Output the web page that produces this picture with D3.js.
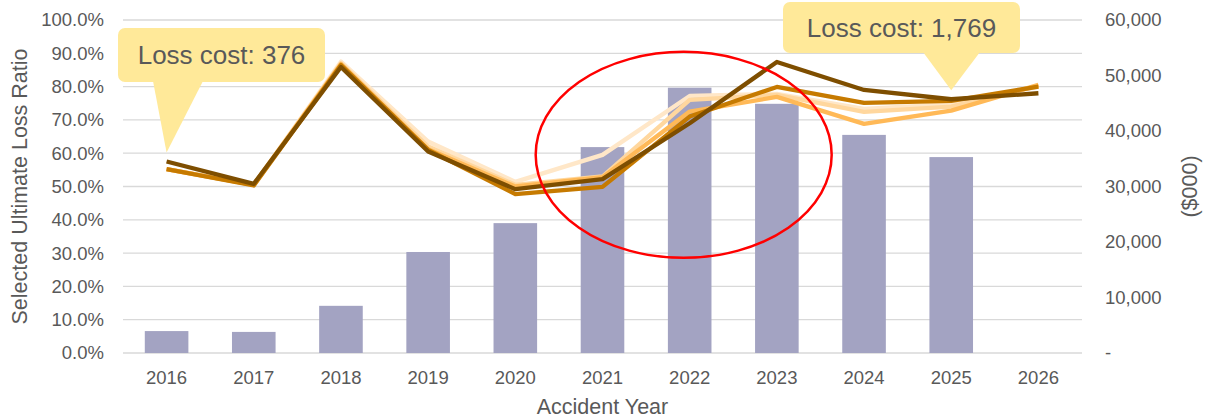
<!DOCTYPE html>
<html>
<head>
<meta charset="utf-8">
<script src="https://cdn.jsdelivr.net/npm/d3@7"></script>
<style>
  html, body { margin: 0; padding: 0; background: #fff; }
  svg { display: block; font-family: "Liberation Sans", Arial, sans-serif; }
</style>
</head>
<body>
<svg id="chart" width="1205" height="418"></svg>
<script>
// Accident years on the category axis
const years = ["2016","2017","2018","2019","2020","2021","2022","2023","2024","2025","2026"];

// Earned loss cost in $000 (bars, right axis); 2026 has no amount yet
const lossCost = [3950, 3800, 8500, 18200, 23400, 37100, 47800, 44900, 39300, 35300, null];

// Selected ultimate loss ratio by evaluation (lines, left axis)
const lrEval1 = [0.552, 0.505, 0.875, 0.635, 0.514, 0.595, 0.772, 0.778, 0.733, 0.747, 0.800];
const lrEval2 = [0.552, 0.505, 0.870, 0.620, 0.505, 0.530, 0.760, 0.775, 0.724, 0.740, 0.802];
const lrEval3 = [0.552, 0.505, 0.868, 0.612, 0.500, 0.528, 0.725, 0.769, 0.688, 0.728, 0.805];
const lrEval4 = [0.552, 0.503, 0.865, 0.610, 0.477, 0.499, 0.710, 0.799, 0.751, 0.757, 0.800];
const lrEval5 = [0.575, 0.508, 0.859, 0.605, 0.492, 0.522, 0.690, 0.874, 0.790, 0.762, 0.780];

const lineSeries = [
  { name: "Evaluation 1", values: lrEval1, color: "#FFE7C8" },
  { name: "Evaluation 2", values: lrEval2, color: "#FFD79E" },
  { name: "Evaluation 3", values: lrEval3, color: "#FFB957" },
  { name: "Evaluation 4", values: lrEval4, color: "#C67A00" },
  { name: "Evaluation 5", values: lrEval5, color: "#7E4E00" }
];

// Left axis ticks (loss ratio) and right axis ticks ($000)
const lrTicks = [0, 0.1, 0.2, 0.3, 0.4, 0.5, 0.6, 0.7, 0.8, 0.9, 1.0];
const costTicks = [0, 10000, 20000, 30000, 40000, 50000, 60000];

// Callouts quoting loss cost for the first and latest accident years
const callouts = [
  { text: "Loss cost: 376", year: "2016", series: 4, box: [118, 28, 207, 54], base: [153, 203] },
  { text: "Loss cost: 1,769", year: "2025", series: 4, box: [783, 2, 237, 51], base: [923, 980] }
];

const svg = d3.select("#chart");
const W = 1205, H = 418;
const m = { top: 20, right: 123, bottom: 65, left: 123 };
const iw = W - m.left - m.right, ih = H - m.top - m.bottom;
const g = svg.append("g").attr("transform", `translate(${m.left},${m.top})`);

const x = d3.scaleBand().domain(years).range([0, iw]).paddingInner(0.5).paddingOuter(0.25);
const xc = d => x(d) + x.bandwidth() / 2;
const yL = d3.scaleLinear().domain([0, 1]).range([ih, 0]);
const yR = d3.scaleLinear().domain([0, 60000]).range([ih, 0]);

const textColor = "#595959";
const tickFont = 18.5;
const titleFont = 21.5;

// Horizontal gridlines
g.append("g").selectAll("line").data(lrTicks).join("line")
  .attr("x1", 0).attr("x2", iw)
  .attr("y1", d => yL(d)).attr("y2", d => yL(d))
  .attr("stroke", "#D9D9D9").attr("stroke-width", 1.3);

// Bars
g.append("g").selectAll("rect").data(years.map((y, i) => ({ y, v: lossCost[i] })).filter(d => d.v != null))
  .join("rect")
  .attr("x", d => x(d.y))
  .attr("width", x.bandwidth())
  .attr("y", d => yR(d.v))
  .attr("height", d => ih - yR(d.v))
  .attr("fill", "#A3A3C2");

// Loss ratio lines
const line = d3.line().x((d, i) => xc(years[i])).y(d => yL(d));
g.append("g").selectAll("path").data(lineSeries).join("path")
  .attr("d", d => line(d.values))
  .attr("fill", "none")
  .attr("stroke", d => d.color)
  .attr("stroke-width", 4.3)
  .attr("stroke-linejoin", "round");

// Red ellipse highlighting 2021-2023
const ex = (xc("2021") + xc("2023")) / 2 - 6;
g.append("ellipse")
  .attr("cx", ex).attr("cy", yL(0.595))
  .attr("rx", 148).attr("ry", 103)
  .attr("fill", "none").attr("stroke", "#FF0000").attr("stroke-width", 2.5);

// Left axis labels
const fmtPct = d3.format(".1%");
g.append("g").selectAll("text").data(lrTicks).join("text")
  .attr("x", -19).attr("y", d => yL(d)).attr("dy", "0.35em")
  .attr("text-anchor", "end").attr("font-size", tickFont).attr("fill", textColor)
  .text(d => fmtPct(d));

// Right axis labels
const fmtCost = d => d === 0 ? "-" : d3.format(",")(d);
g.append("g").selectAll("text").data(costTicks).join("text")
  .attr("x", iw + 23).attr("y", d => yR(d)).attr("dy", "0.35em")
  .attr("text-anchor", "start").attr("font-size", tickFont).attr("fill", textColor)
  .text(fmtCost);

// X axis labels
g.append("g").selectAll("text").data(years).join("text")
  .attr("x", d => xc(d)).attr("y", ih + 25).attr("dy", "0.35em")
  .attr("text-anchor", "middle").attr("font-size", tickFont).attr("fill", textColor)
  .text(d => d);

// Axis titles
svg.append("text")
  .attr("transform", `translate(26.5,${m.top + ih / 2}) rotate(-90)`)
  .attr("text-anchor", "middle").attr("font-size", titleFont).attr("fill", textColor)
  .text("Selected Ultimate Loss Ratio");
svg.append("text")
  .attr("transform", `translate(1197,${m.top + ih / 2}) rotate(-90)`)
  .attr("text-anchor", "middle").attr("font-size", titleFont).attr("fill", textColor)
  .text("($000)");
svg.append("text")
  .attr("x", m.left + iw / 2).attr("y", 414)
  .attr("text-anchor", "middle").attr("font-size", titleFont).attr("fill", textColor)
  .text("Accident Year");

// Callouts with pointers to the line
callouts.forEach(c => {
  const [bx, by, bw, bh] = c.box;
  const tipX = m.left + xc(c.year);
  const tipY = m.top + yL(lineSeries[c.series].values[years.indexOf(c.year)]) - 9;
  const cg = svg.append("g");
  cg.append("path")
    .attr("d", `M${c.base[0]},${by + bh - 1} L${tipX},${tipY} L${c.base[1]},${by + bh - 1} Z`)
    .attr("fill", "#FFE999");
  cg.append("rect")
    .attr("x", bx).attr("y", by).attr("width", bw).attr("height", bh)
    .attr("rx", 7).attr("fill", "#FFE999");
  cg.append("text")
    .attr("x", bx + bw / 2).attr("y", by + bh / 2).attr("dy", "0.35em")
    .attr("text-anchor", "middle").attr("font-size", 26).attr("fill", textColor)
    .text(c.text);
});
</script>
</body>
</html>
